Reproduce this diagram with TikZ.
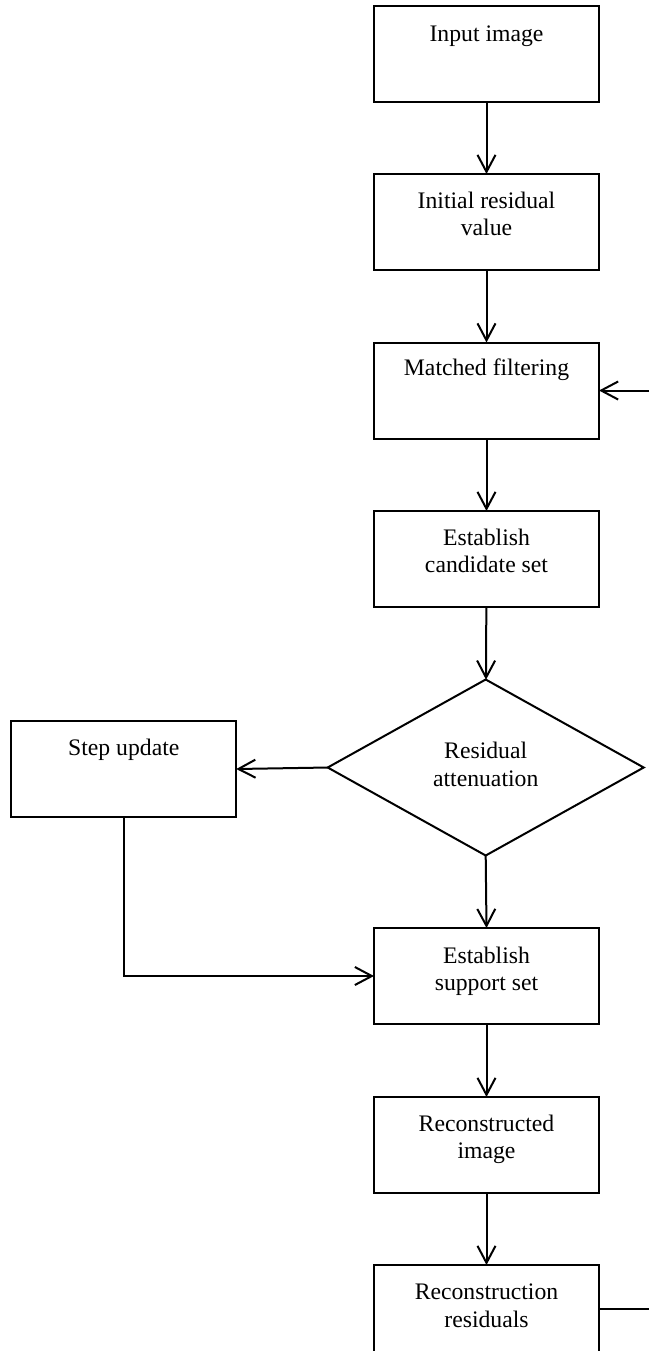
\documentclass[tikz,border=0pt]{standalone}
\usepackage{fontspec}
\setmainfont{Liberation Serif}
\usetikzlibrary{shapes.geometric,arrows.meta}

\begin{document}
\begin{tikzpicture}[x=0.5pt,y=-0.5pt,line width=1pt,
  procbox/.style={draw,rectangle,minimum width=112.5pt,minimum height=48pt,inner sep=0pt,outer sep=0pt},
  decide/.style={draw,diamond,minimum width=158pt,minimum height=88pt,inner sep=0pt,outer sep=0pt},
  boxtext/.style={anchor=north,align=center,inner sep=0pt,font=\fontsize{11.85}{13.75}\selectfont},
  flow/.style={-{Straight Barb[length=8.5pt,width=9pt]}}]

\useasboundingbox (0,0) rectangle (649,1351);

\node[procbox] (input) at (486.5,54) {};
\node[boxtext] (input-t) at (486.5,25) {Input image};

\node[procbox] (initial) at (486.5,222) {};
\node[boxtext] (initial-t) at (486.5,191) {Initial residual\\value};

\node[procbox] (matched) at (486.5,390.5) {};
\node[boxtext] (matched-t) at (486.5,358) {Matched filtering};

\node[procbox] (candidate) at (486.5,559) {};
\node[boxtext] (candidate-t) at (486.5,528) {Establish\\candidate set};

\node[decide] (atten) at (485.7,767.5) {};
\node[boxtext] (atten-t) at (485.7,741.5) {Residual\\attenuation};

\node[procbox] (stepbox) at (123.8,769) {};
\node[boxtext] (stepbox-t) at (123.8,738) {Step update};

\node[procbox] (support) at (486.5,976) {};
\node[boxtext] (support-t) at (486.5,946) {Establish\\support set};

\node[procbox] (recimage) at (486.5,1145) {};
\node[boxtext] (recimage-t) at (486.5,1114) {Reconstructed\\image};

\node[procbox] (recres) at (486.5,1313) {};
\node[boxtext] (recres-t) at (486.5,1283) {Reconstruction\\residuals};

\coordinate (loopin) at (649,390.5);
\coordinate (loopout) at (649,1309);

\draw[flow] (input) -- (initial);
\draw[flow] (initial) -- (matched);
\draw[flow] (matched) -- (candidate);
\draw[flow] (candidate) -- (atten);
\draw[flow] (atten.west) -- (stepbox.east);
\draw[flow] (atten.south) -- (support.north);
\draw[flow] (stepbox.south) |- (support.west);
\draw[flow] (support) -- (recimage);
\draw[flow] (recimage) -- (recres);
\draw[flow] (loopin) -- (matched.east);
\draw ([yshift=2pt]recres.east) -- (loopout);

\end{tikzpicture}
\end{document}
